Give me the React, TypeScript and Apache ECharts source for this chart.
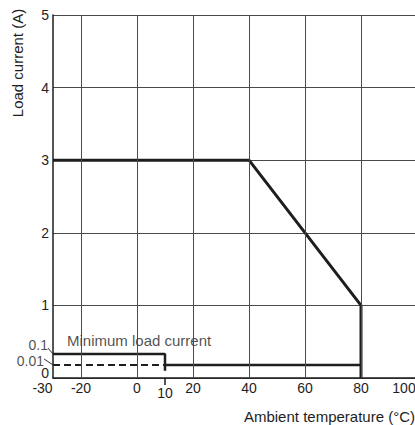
import React, { useEffect, useRef } from "react";
import * as echarts from "echarts";

// ---- data ----
const xMin = -30;
const xMax = 100;
const xStep = 10;
const xTickLabels = [-30, -20, 0, 10, 20, 40, 60, 80, 100];
const xGridLines = [-20, 0, 20, 40, 60, 80, 100];
const yMin = 0;
const yMax = 5;
const yStep = 1;

// rated load current vs ambient temperature
const deratingCurve: [number, number][] = [
  [-30, 3],
  [40, 3],
  [80, 1],
  [80, 0],
];
// minimum load current (drawn exaggerated near 0)
const minLoadUpper: [number, number][] = [
  [-30, 0.33],
  [10, 0.33],
  [10, 0.1],
];
const minLoadLower: [number, number][] = [
  [10, 0.18],
  [80, 0.18],
];
const minLoadDashed: [number, number][] = [
  [-30, 0.18],
  [10, 0.18],
];
const extraYLabels = [
  { text: "0.1", at: 0.33 },
  { text: "0.01", at: 0.18 },
];
const markedX = 10;
const minLoadCaption = { text: "Minimum load current", x: -25, y: 0.52 };

const xName = "Ambient temperature (°C)";
const yName = "Load current (A)";

// ---- layout ----
const W = 415;
const H = 425;
const G = { left: 53, top: 15, width: 364, height: 363 };
const FONT = "'Liberation Sans', Arial, Helvetica, sans-serif";
const INK = "#1e1e1e";
const TICK_FS = 14;
const NAME_FS = 15;

export default function App() {
  const ref = useRef<HTMLDivElement>(null);
  useEffect(() => {
    if (!ref.current) return;
    const chart = echarts.init(ref.current, undefined, { renderer: "svg" });
    const xPerPx = (xMax - xMin) / G.width;
    const yPerPx = (yMax - yMin) / G.height;
    // leader end offsets (px) and label vertical nudges (px)
    const leaderPx = [
      [-5, 6],
      [-9, 6],
    ];
    const labelNudge = [-3, 2];
    const labelSeries = extraYLabels.map((l, i) => ({
      type: "scatter",
      clip: false,
      symbolSize: 0,
      silent: true,
      data: [
        {
          value: [xMin + leaderPx[i][0] * xPerPx, l.at + leaderPx[i][1] * yPerPx],
          name: l.text,
        },
      ],
      label: {
        show: true,
        position: "left",
        distance: 0,
        offset: [0, labelNudge[i]],
        formatter: (p: any) => p.name,
        fontSize: TICK_FS,
        lineHeight: 12,
        fontFamily: FONT,
        color: INK,
      },
    }));
    const yNameGraphic = {
      id: "yname",
      type: "text",
      x: 17,
      y: 63,
      rotation: Math.PI / 2,
      style: {
        text: yName,
        fontSize: NAME_FS,
        fontFamily: FONT,
        fill: INK,
        align: "center",
        verticalAlign: "middle",
      },
    };
    const option: any = {
      animation: false,
      grid: {
        left: G.left,
        top: G.top,
        width: G.width,
        height: G.height,
        containLabel: false,
        outerBoundsMode: "none",
      },
      xAxis: {
        type: "value",
        min: xMin,
        max: xMax,
        interval: xStep,
        name: xName,
        nameLocation: "end",
        nameGap: -2,
        nameTextStyle: {
          align: "right",
          verticalAlign: "top",
          padding: [31, 0, 0, 0],
          fontSize: NAME_FS,
          fontFamily: FONT,
          color: INK,
        },
        axisLine: { show: true, onZero: false, lineStyle: { color: INK, width: 1.5 } },
        axisTick: { show: false },
        splitLine: { show: false },
        axisLabel: {
          margin: 3,
          fontSize: TICK_FS,
          fontFamily: FONT,
          color: INK,
          showMinLabel: true,
          showMaxLabel: true,
          hideOverlap: false,
          formatter: (v: number) => {
            if (!xTickLabels.includes(v)) return "";
            if (v === xMin) return "{first|" + v + "}";
            if (v === xMax) return "{last|" + v + "}";
            if (v === markedX) return "{low|" + v + "}";
            return String(v);
          },
          rich: {
            first: { fontSize: TICK_FS, fontFamily: FONT, color: INK, padding: [0, 21, 0, 0] },
            last: { fontSize: TICK_FS, fontFamily: FONT, color: INK, padding: [0, 26, 0, 0] },
            low: { fontSize: TICK_FS, fontFamily: FONT, color: INK, padding: [5, 0, 0, 0] },
          },
        },
      },
      yAxis: {
        type: "value",
        min: yMin,
        max: yMax,
        interval: yStep,
        axisLine: { show: true, onZero: false, lineStyle: { color: INK, width: 1.5 } },
        axisTick: { show: false },
        splitLine: { show: true, lineStyle: { color: "#4a4a4a", width: 1 } },
        axisLabel: {
          margin: 4,
          fontSize: TICK_FS,
          fontFamily: FONT,
          color: INK,
          formatter: (v: number) => (v === 0 ? "{zero|0}" : String(v)),
          rich: {
            zero: { fontSize: TICK_FS, fontFamily: FONT, color: INK, padding: [0, 0, 11, 0] },
          },
        },
      },
      graphic: [yNameGraphic],
      series: [
        {
          type: "line",
          symbol: "none",
          silent: true,
          data: [],
          markLine: {
            silent: true,
            symbol: "none",
            label: { show: false },
            lineStyle: { color: "#4a4a4a", width: 1, type: "solid" },
            data: xGridLines.map((x) => ({ xAxis: x })),
          },
        },
        {
          type: "line",
          symbol: "none",
          silent: true,
          lineStyle: { color: INK, width: 3 },
          data: deratingCurve,
          z: 4,
        },
        {
          type: "line",
          symbol: "none",
          silent: true,
          lineStyle: { color: INK, width: 2.5 },
          data: minLoadUpper,
          z: 4,
        },
        {
          type: "line",
          symbol: "none",
          silent: true,
          lineStyle: { color: INK, width: 2.5 },
          data: minLoadLower,
          z: 4,
        },
        {
          type: "line",
          symbol: "none",
          silent: true,
          lineStyle: { color: INK, width: 2, type: [7, 4] },
          data: minLoadDashed,
          z: 4,
        },
        ...labelSeries,
        {
          type: "scatter",
          symbolSize: 0,
          silent: true,
          data: [{ value: [minLoadCaption.x, minLoadCaption.y], name: minLoadCaption.text }],
          label: {
            show: true,
            position: "right",
            distance: 0,
            formatter: (p: any) => p.name,
            fontSize: NAME_FS,
            fontFamily: FONT,
            color: INK,
          },
        },
      ],
    };
    chart.setOption(option);

    // leader lines and the tick under x = 10, positioned through the axes' scales
    const leaders = extraYLabels.map((l, i) => {
      const p = chart.convertToPixel({ gridIndex: 0 }, [xMin, l.at]) as number[];
      return {
        id: "leader" + i,
        type: "line",
        z: 10,
        silent: true,
        shape: {
          x1: p[0],
          y1: p[1],
          x2: p[0] + leaderPx[i][0],
          y2: p[1] - leaderPx[i][1],
        },
        style: { stroke: "#333", lineWidth: 1 },
      };
    });
    const t = chart.convertToPixel({ gridIndex: 0 }, [markedX, 0]) as number[];
    const tick = {
      id: "tick10",
      type: "line",
      z: 10,
      silent: true,
      shape: { x1: t[0], y1: t[1], x2: t[0], y2: t[1] + 7 },
      style: { stroke: INK, lineWidth: 1.5 },
    };
    chart.setOption({ graphic: [yNameGraphic, ...leaders, tick] });
    return () => chart.dispose();
  }, []);
  return (
    <div
      ref={ref}
      style={{ position: "absolute", left: 0, top: 0, width: W, height: H, background: "#fff" }}
    />
  );
}
